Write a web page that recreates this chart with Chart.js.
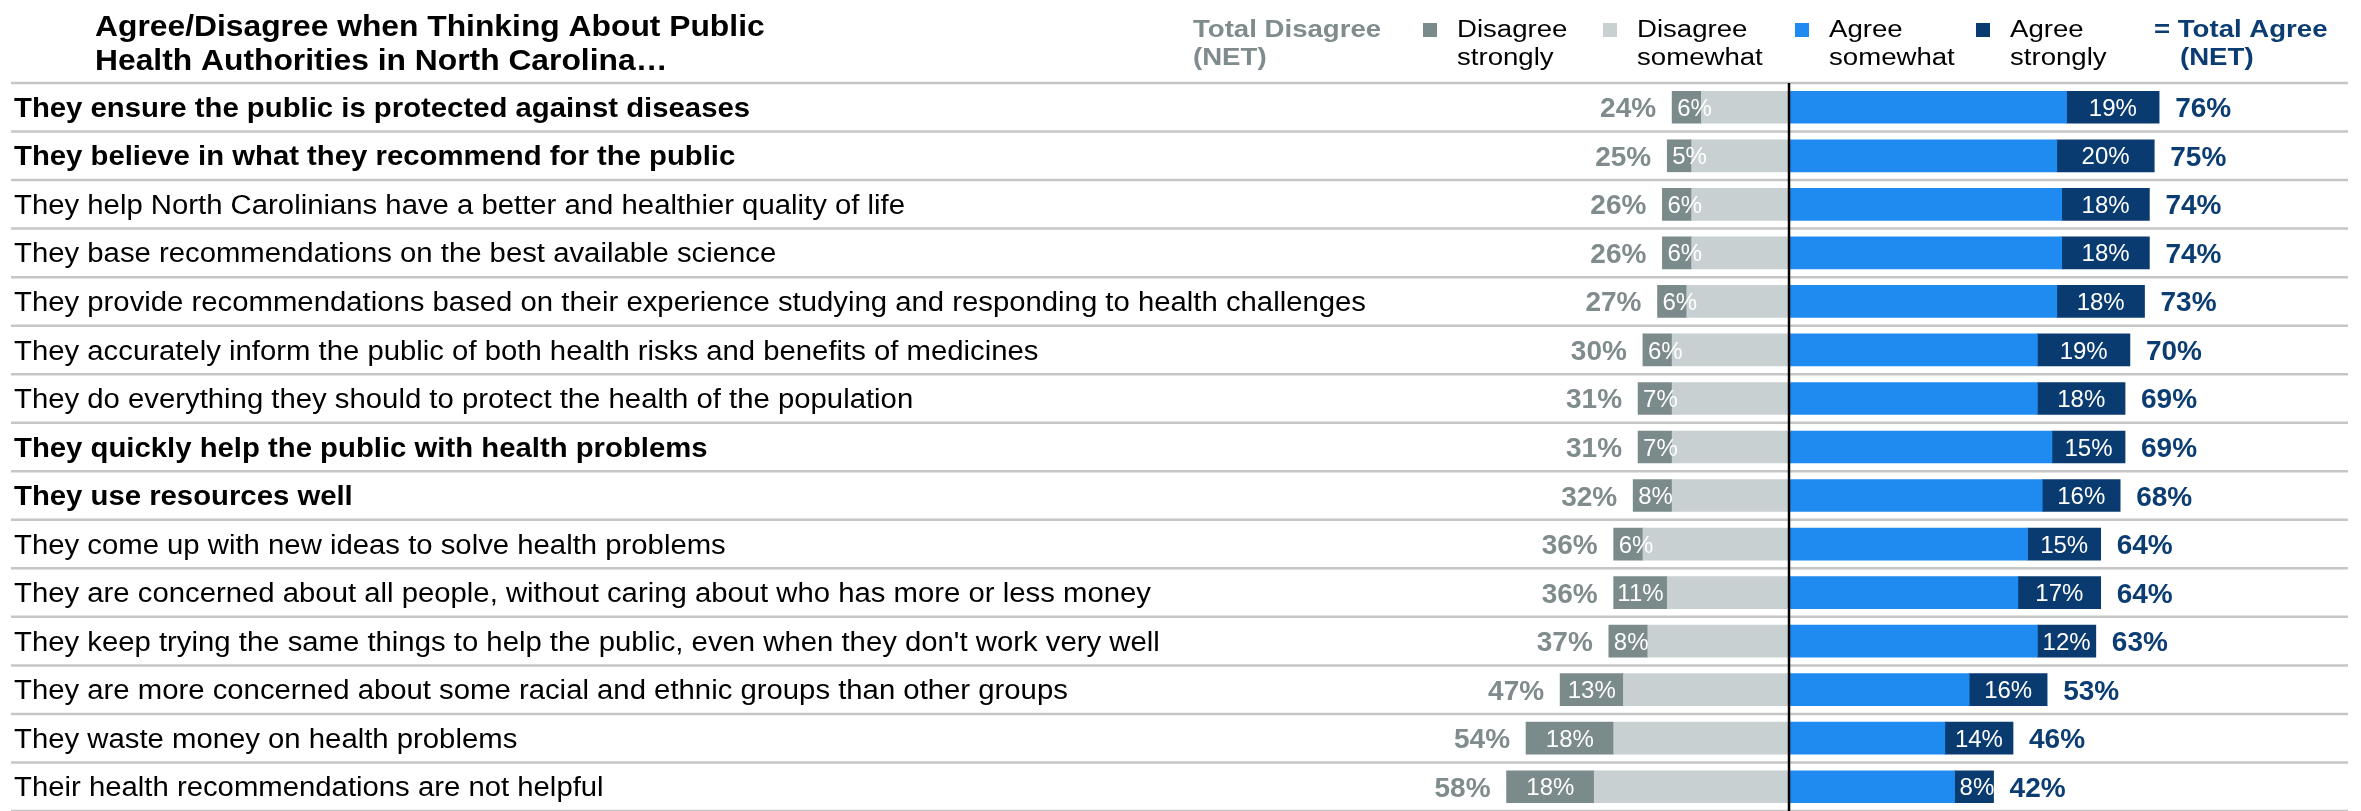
<!DOCTYPE html>
<html>
<head>
<meta charset="utf-8">
<script src="https://cdn.jsdelivr.net/npm/chart.js@4"></script>
<style>
  html, body { margin: 0; padding: 0; background: #fff; }
  #chart { display: block; }
</style>
</head>
<body>
<canvas id="chart" width="2361" height="811"></canvas>
<script>
const categories = [
  "They ensure the public is protected against diseases",
  "They believe in what they recommend for the public",
  "They help North Carolinians have a better and healthier quality of life",
  "They base recommendations on the best available science",
  "They provide recommendations based on their experience studying and responding to health challenges",
  "They accurately inform the public of both health risks and benefits of medicines",
  "They do everything they should to protect the health of the population",
  "They quickly help the public with health problems",
  "They use resources well",
  "They come up with new ideas to solve health problems",
  "They are concerned about all people, without caring about who has more or less money",
  "They keep trying the same things to help the public, even when they don't work very well",
  "They are more concerned about some racial and ethnic groups than other groups",
  "They waste money on health problems",
  "Their health recommendations are not helpful"
];
const boldRows = [0, 1, 7, 8];

const disagreeTotal    = [24, 25, 26, 26, 27, 30, 31, 31, 32, 36, 36, 37, 47, 54, 58];
const disagreeStrongly = [6, 5, 6, 6, 6, 6, 7, 7, 8, 6, 11, 8, 13, 18, 18];
const disagreeSomewhat = [18, 20, 20, 20, 21, 24, 24, 24, 24, 30, 25, 29, 34, 36, 40];
const agreeSomewhat    = [57, 55, 56, 56, 55, 51, 51, 54, 52, 49, 47, 51, 37, 32, 34];
const agreeStrongly    = [19, 20, 18, 18, 18, 19, 18, 15, 16, 15, 17, 12, 16, 14, 8];
const agreeTotal       = [76, 75, 74, 74, 73, 70, 69, 69, 68, 64, 64, 63, 53, 46, 42];

const C_DS = '#7b8a8b';
const C_DW = '#c9d0d2';
const C_AW = '#1f8bf0';
const C_AS = '#0a3b70';
const C_GREYTXT = '#7f8b8c';
const C_NAVYTXT = '#0b3c72';
const FONT = '"Liberation Sans", Arial, sans-serif';

function txt(ctx, s, x, y, font, color, align, sx) {
  ctx.save();
  ctx.font = font;
  ctx.fillStyle = color;
  ctx.textAlign = align;
  ctx.textBaseline = 'alphabetic';
  ctx.translate(x, y);
  ctx.scale(sx, 1);
  ctx.fillText(s, 0, 0);
  ctx.restore();
}

// label inside a segment: centred, or pushed to the left edge when it does not fit
function segLabel(ctx, s, el, y) {
  const left = Math.min(el.x, el.base), right = Math.max(el.x, el.base);
  ctx.save();
  ctx.font = '24px ' + FONT;
  const w = ctx.measureText(s).width;
  ctx.restore();
  if (w > right - left - 6) {
    txt(ctx, s, left + 5, y, '24px ' + FONT, '#fff', 'left', 1);
  } else {
    txt(ctx, s, (left + right) / 2, y, '24px ' + FONT, '#fff', 'center', 1);
  }
}

const decor = {
  id: 'decor',
  beforeDatasetsDraw(chart) {
    const ctx = chart.ctx;
    const y = chart.scales.y;
    const step = y.getPixelForValue(1) - y.getPixelForValue(0);
    ctx.save();
    ctx.strokeStyle = '#c6c6c6';
    ctx.lineWidth = 2.5;
    for (let i = 0; i <= categories.length; i++) {
      const yy = y.getPixelForValue(i) - step / 2;
      ctx.beginPath();
      ctx.moveTo(11, yy);
      ctx.lineTo(2348, yy);
      ctx.stroke();
    }
    ctx.restore();
  },
  afterDatasetsDraw(chart) {
    const ctx = chart.ctx;
    const xs = chart.scales.x;
    const ys = chart.scales.y;
    const area = chart.chartArea;

    // centre line
    const x0 = xs.getPixelForValue(0);
    ctx.save();
    ctx.strokeStyle = '#000';
    ctx.lineWidth = 2.5;
    ctx.beginPath();
    ctx.moveTo(x0, area.top);
    ctx.lineTo(x0, chart.height);
    ctx.stroke();
    ctx.restore();

    // title
    txt(ctx, 'Agree/Disagree when Thinking About Public', 95, 36, 'bold 30px ' + FONT, '#000', 'left', 1.06);
    txt(ctx, 'Health Authorities in North Carolina\u2026', 95, 70, 'bold 30px ' + FONT, '#000', 'left', 1.06);

    // legend
    const lf = '23px ' + FONT, lb = 'bold 23px ' + FONT, lsx = 1.2;
    txt(ctx, 'Total Disagree', 1193, 37, lb, C_GREYTXT, 'left', lsx);
    txt(ctx, '(NET)', 1193, 65, lb, C_GREYTXT, 'left', lsx);
    const items = [
      [1423, C_DS, 'Disagree', 'strongly'],
      [1603, C_DW, 'Disagree', 'somewhat'],
      [1795, C_AW, 'Agree', 'somewhat'],
      [1976, C_AS, 'Agree', 'strongly']
    ];
    items.forEach(([x, c, a, b]) => {
      ctx.fillStyle = c;
      ctx.fillRect(x, 23, 14, 14);
      txt(ctx, a, x + 34, 37, lf, '#000', 'left', lsx);
      txt(ctx, b, x + 34, 65, lf, '#000', 'left', lsx);
    });
    txt(ctx, '= Total Agree', 2154, 37, lb, C_NAVYTXT, 'left', lsx);
    txt(ctx, '(NET)', 2180, 65, lb, C_NAVYTXT, 'left', lsx);

    // category labels
    ctx.save();
    ctx.font = '27px ' + FONT;
    const labSx = 1352 / ctx.measureText(categories[4]).width;
    ctx.restore();
    categories.forEach((c, i) => {
      const yy = ys.getPixelForValue(i);
      const f = (boldRows.includes(i) ? 'bold ' : '') + '27px ' + FONT;
      txt(ctx, c, 14, yy + 9.6, f, '#000', 'left', labSx);
    });

    // value labels
    const mDS = chart.getDatasetMeta(1).data;
    const mAS = chart.getDatasetMeta(3).data;
    categories.forEach((c, i) => {
      const a = mDS[i], b = mAS[i];
      const yy = a.y;
      segLabel(ctx, disagreeStrongly[i] + '%', a, yy + 8.6);
      segLabel(ctx, agreeStrongly[i] + '%', b, yy + 8.6);
      txt(ctx, disagreeTotal[i] + '%', a.x - 16, yy + 10, 'bold 28px ' + FONT, C_GREYTXT, 'right', 1);
      txt(ctx, agreeTotal[i] + '%', b.x + 16, yy + 10, 'bold 28px ' + FONT, C_NAVYTXT, 'left', 1);
    });
  }
};

new Chart(document.getElementById('chart'), {
  type: 'bar',
  data: {
    labels: categories,
    datasets: [
      { label: 'Disagree somewhat', data: disagreeSomewhat.map(v => -v), backgroundColor: C_DW },
      { label: 'Disagree strongly', data: disagreeStrongly.map(v => -v), backgroundColor: C_DS },
      { label: 'Agree somewhat', data: agreeSomewhat, backgroundColor: C_AW },
      { label: 'Agree strongly', data: agreeStrongly, backgroundColor: C_AS }
    ]
  },
  options: {
    indexAxis: 'y',
    responsive: false,
    animation: false,
    layout: { padding: { top: 83, bottom: -3, left: 0, right: 0 } },
    datasets: { bar: { barThickness: 32, borderWidth: 0 } },
    plugins: { legend: { display: false }, tooltip: { enabled: false } },
    scales: {
      x: { type: 'linear', stacked: true, min: -367.35, max: 117.45, display: false },
      y: { stacked: true, display: false }
    }
  },
  plugins: [decor]
});
</script>
</body>
</html>
